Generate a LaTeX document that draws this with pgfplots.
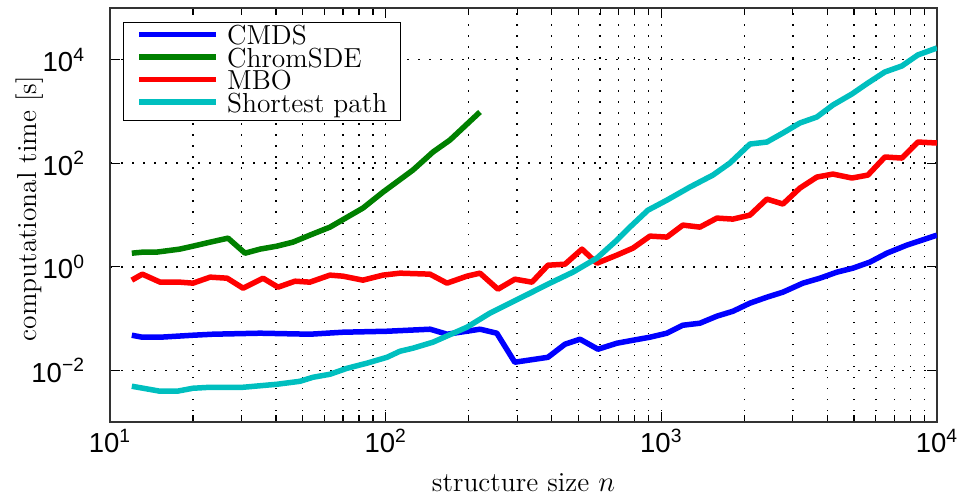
\documentclass[border=0pt]{standalone}
\usepackage{fontspec}
\setsansfont{Liberation Sans}
\usepackage{pgfplots}
\pgfplotsset{compat=1.18}

\definecolor{cmds}{RGB}{0,0,255}
\definecolor{chrom}{RGB}{0,128,0}
\definecolor{mbo}{RGB}{255,0,0}
\definecolor{spath}{RGB}{0,191,191}

\newcommand{\labfont}{\fontsize{13.8}{16}\selectfont}

\begin{document}
\begin{tikzpicture}
\begin{axis}[
    scale only axis, width=413.5bp, height=207bp,
    xmode=log, ymode=log, log basis x=10, log basis y=10,
    xmin=10, xmax=10000, ymin=1e-3, ymax=1e5,
    xtick={10,100,1000,10000},
    minor xtick={20,30,40,50,60,70,80,90,200,300,400,500,600,700,800,900,
                 2000,3000,4000,5000,6000,7000,8000,9000},
    ytick={1e-2,1,1e2,1e4},
    xmajorgrids, xminorgrids, ymajorgrids,
    grid style={black, line width=0.75bp, dash pattern=on 0.75bp off 4.75bp},
    minor grid style={black, line width=0.75bp, dash pattern=on 0.75bp off 4.75bp},
    major grid style={black, line width=0.75bp, dash pattern=on 0.75bp off 4.75bp},
    major tick length=5bp, minor tick length=3.5bp,
    tick style={black, line width=0.6bp},
    axis line style={black!80, line width=0.8bp},
    tick label style={font=\labfont},
    xticklabel={\pgfmathparse{int(round(\tick))}\textsf{10\textsuperscript{\pgfmathresult}}},
    yticklabel={\pgfmathparse{int(round(\tick))}\ifnum\pgfmathresult<0 \textsf{10\textsuperscript{−\pgfmathparse{int(abs(\pgfmathresult))}\pgfmathresult}}\else\textsf{10\textsuperscript{\pgfmathresult}}\fi},
    yticklabel style={xshift=-9bp},
    xlabel={structure size $n$},
    ylabel={computational time [s]},
    label style={font=\labfont},
    xlabel style={at={(axis description cs:0.5,-0.169)}, anchor=base, inner sep=0pt},
    ylabel style={at={(axis description cs:-0.0883,0.515)}, anchor=base, rotate=0, inner sep=0pt},
    legend cell align=left,
    legend style={at={(0,1)}, anchor=north west, xshift=6.5bp, yshift=-7bp,
        draw=black, line width=0.6bp, fill=white,
        inner xsep=6.5bp, inner ysep=2bp, row sep=0pt, column sep=4bp,
        font=\labfont,
        nodes={inner sep=0pt, text height=9bp, text depth=2.25bp}},
    legend image code/.code={\draw[#1] (0bp,1.6bp) -- (38.5bp,1.6bp);},
    every axis plot/.append style={line width=2.75bp, line join=round},
]
% CMDS
\addplot[cmds] coordinates {
(12.0,0.0475) (13.1,0.0435) (15.2,0.0435) (20.0,0.0475) (23.6,0.0497)
(35.0,0.052) (53.1,0.0497) (70.0,0.0543) (101,0.0567) (145,0.0621)
(167,0.0497) (220,0.0621) (253,0.052) (294,0.0143) (388,0.0178)
(447,0.0318) (507,0.0398) (589,0.0255) (690,0.0333) (789,0.038)
(909,0.0435) (1048,0.052) (1197,0.0741) (1380,0.0811) (1591,0.111)
(1818,0.138) (2096,0.198) (2415,0.258) (2761,0.323) (3263,0.482)
(3761,0.601) (4335,0.787) (4955,0.94) (5710,1.23) (6582,1.83)
(7778,2.62) (10000,4.08)
};
\addlegendentry{CMDS}
% ChromSDE
\addplot[chrom] coordinates {
(12.0,1.83) (13.2,1.92) (14.8,1.92) (17.9,2.19) (20.0,2.50) (23.1,2.99)
(26.8,3.57) (30.9,1.83) (35.0,2.19) (40.3,2.50) (46.1,2.99) (53.1,4.08)
(62.8,5.83) (82.7,13.6) (97.8,27.7) (125.6,73.9) (148.5,165) (171.1,281)
(219.8,978)
};
\addlegendentry{ChromSDE}
% MBO
\addplot[mbo] coordinates {
(12.0,0.551) (13.1,0.719) (15.2,0.504) (17.9,0.504) (20.0,0.482)
(23.1,0.630) (26.6,0.601) (30.4,0.385) (35.9,0.601) (40.7,0.403)
(46.9,0.526) (53.1,0.504) (62.8,0.689) (70.0,0.658) (82.7,0.551)
(97.8,0.689) (112.7,0.752) (144.8,0.719) (166.9,0.482) (197.2,0.658)
(219.8,0.752) (255.4,0.369) (294.4,0.575) (339.4,0.504) (387.9,1.07)
(447.2,1.12) (515.3,2.19) (583.9,1.17) (690.2,1.68) (788.8,2.29)
(909.4,3.91) (1048,3.74) (1197,6.38) (1380,5.83) (1591,8.71)
(1818,8.33) (2096,9.95) (2415,20.3) (2761,16.3) (3182,33.1)
(3667,54.1) (4193,61.8) (4913,51.8) (5616,59.1) (6472,132)
(7460,126) (8524,257) (10000,246)
};
\addlegendentry{MBO}
% Shortest path
\addplot[spath] coordinates {
(12.0,0.00491) (13.2,0.00449) (15.2,0.00393) (17.5,0.00393) (20.0,0.00449)
(23.1,0.00469) (30.4,0.00469) (40.3,0.00536) (48.9,0.00612) (54.5,0.00732)
(62.8,0.00837) (72.4,0.0109) (85.5,0.0137) (101.1,0.0178) (112.7,0.0233)
(125.6,0.0267) (148.5,0.0349) (197.2,0.0679) (238.9,0.127) (282.4,0.198)
(333.7,0.308) (394.5,0.482) (478.0,0.787) (583.9,1.47) (690.2,3.27)
(769.2,5.83) (894.3,12.4) (1048,19.4) (1270,34.7) (1539,59.1)
(1774,101) (2096,235) (2415,257) (2761,384) (3182,600) (3667,783)
(4193,1336) (4913,2180) (5616,3556) (6472,5807) (7460,7586)
(8524,12390) (10000,16900)
};
\addlegendentry{Shortest path}
\end{axis}
\path (current axis.south west) ++(-55bp,-37.5bp);
\path (current axis.north east) ++(14.5bp,4bp);
\end{tikzpicture}
\end{document}
